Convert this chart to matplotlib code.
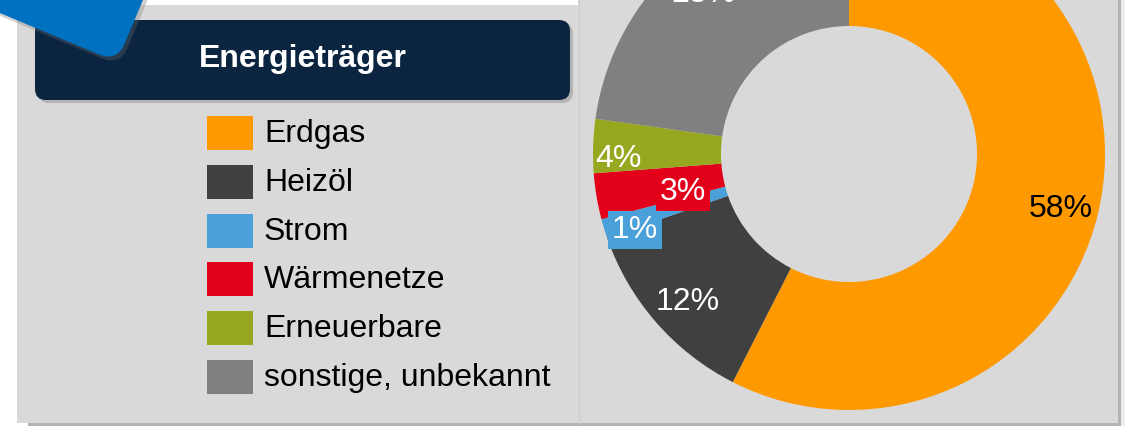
import matplotlib
matplotlib.use("Agg")
from matplotlib import pyplot as plt
from matplotlib.patches import Rectangle, FancyBboxPatch
from matplotlib.transforms import Affine2D
import numpy as np

plt.rcParams['font.family'] = ['Liberation Sans', 'DejaVu Sans']

# data
categories = ['Erdgas', 'Heizöl', 'Strom', 'Wärmenetze', 'Erneuerbare', 'sonstige, unbekannt']
shares = [57.5, 12.2, 1.2, 2.9, 3.4, 22.8]
share_labels = ['58%', '12%', '1%', '3%', '4%', '23%']
colors = ['#ff9900', '#404040', '#4aa0d8', '#e2001a', '#98a720', '#808080']
title = 'Energieträger'

W, H = 1135, 426
fig = plt.figure(figsize=(W / 100, H / 100), dpi=100)
fig.patch.set_facecolor('white')

# background in pixel coordinates
bg = fig.add_axes([0, 0, 1, 1])
bg.set_xlim(0, W)
bg.set_ylim(H, 0)
bg.axis('off')

panel = '#d9d9d9'
bg.add_patch(Rectangle((28, 423), 1093, 3, color='#b3b3b3', lw=0))
bg.add_patch(Rectangle((1118, 0), 3, 423, color='#b3b3b3', lw=0))
bg.add_patch(Rectangle((1121, 0), 4, 426, color='#ececec', lw=0))
bg.add_patch(Rectangle((17, 5), 561, 418, color=panel, lw=0))
bg.add_patch(Rectangle((578, 0), 540, 423, color=panel, lw=0))
bg.plot([578.5, 578.5], [0, 423], color='#cecece', lw=1)

# header box with shadow
bg.add_patch(FancyBboxPatch((38, 23), 535, 80, boxstyle='round,pad=0,rounding_size=11',
                            color='#909090', alpha=0.5, lw=0))
bg.add_patch(FancyBboxPatch((35, 20), 535, 80, boxstyle='round,pad=0,rounding_size=11',
                            color='#0b2540', lw=0))
bg.text(303, 59, title, color='white', fontsize=23, fontweight='bold',
        ha='center', va='center')

# tilted blue shape in the corner
ang = np.radians(22.7)
u = (np.cos(ang), np.sin(ang))
v = (np.sin(ang), -np.cos(ang))
for dx, dy, col, alpha in [(3, 4, '#707070', 0.3), (0, 0, '#0070c0', 1.0)]:
    tr = Affine2D.from_values(u[0], u[1], v[0], v[1], 117 + dx, 62 + dy) + bg.transData
    shape = FancyBboxPatch((-400, 0), 400, 300, boxstyle='round,pad=0,rounding_size=20',
                           color=col, alpha=alpha, lw=0, transform=tr)
    bg.add_patch(shape)

# legend
for i, (name, col) in enumerate(zip(categories, colors)):
    yc = 133 + i * 48.8
    bg.add_patch(Rectangle((207, yc - 17), 46, 34, color=col, lw=0))
    bg.text(264, yc + 1, name, fontsize=23, color='black', ha='left', va='center')

# donut
cx, cy, r = 849, 154, 256
ax = fig.add_axes([(cx - r) / W, (H - cy - r) / H, 2 * r / W, 2 * r / H])
wedges, _ = ax.pie(shares, colors=colors, startangle=90, counterclock=False,
                   wedgeprops=dict(width=0.5, linewidth=0))
for w in wedges:
    w.set_clip_on(False)
ax.set_xlim(-1, 1)
ax.set_ylim(-1, 1)
ax.axis('off')


def px(x, y):
    return (x - cx) / r, (cy - y) / r


label_pos = [(1061, 209), (688, 302), (635, 230), (683, 192), (618, 159), (703, -6)]
label_col = ['black', 'white', 'white', 'white', 'white', 'white']
label_box = [None, None, colors[2], colors[3], None, None]
for txt, (x, y), c, b in zip(share_labels, label_pos, label_col, label_box):
    kw = {}
    if b is not None:
        kw['bbox'] = dict(boxstyle='square,pad=0.12', fc=b, ec='none')
    t = ax.text(*px(x, y), txt, fontsize=23, color=c, ha='center', va='center', **kw)
    t.set_clip_on(False)

fig.savefig('out.png', dpi=100)
